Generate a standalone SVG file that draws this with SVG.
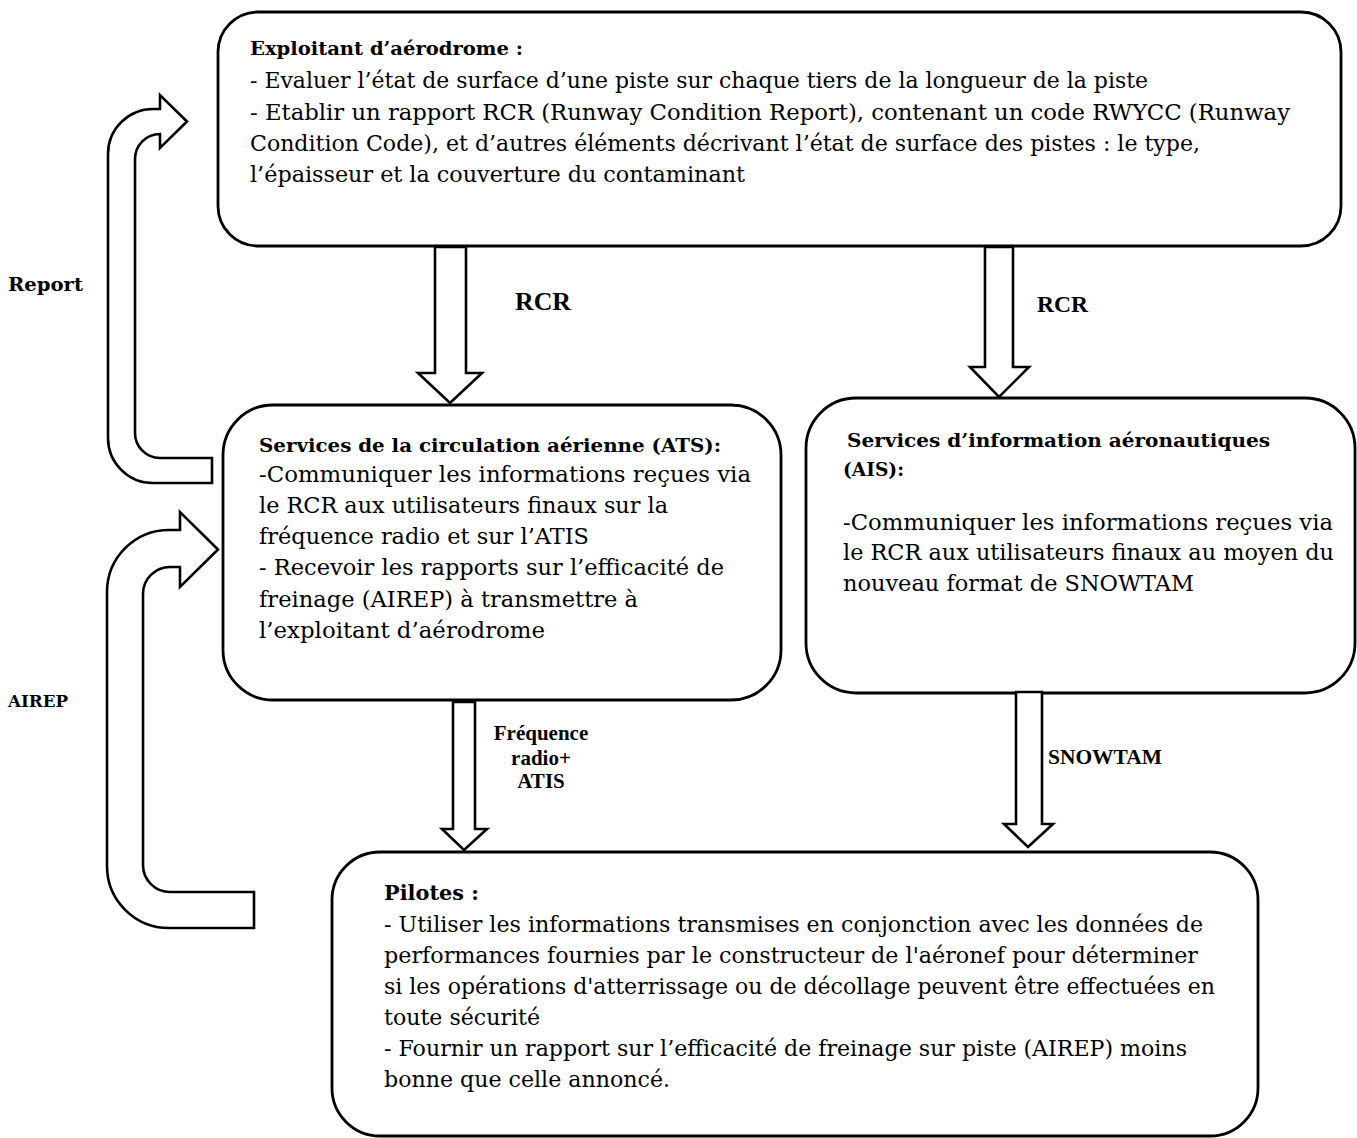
<svg xmlns="http://www.w3.org/2000/svg" width="1357" height="1138" viewBox="0 0 1357 1138">
<style>
.box{fill:#fff;stroke:#000;stroke-width:2.8}
.arr{fill:#fff;stroke:#000;stroke-width:2.6;stroke-linejoin:miter}
.t{font-family:"DejaVu Serif","Liberation Serif",serif;font-size:22px;fill:#000}
.h{font-family:"DejaVu Serif","Liberation Serif",serif;font-size:19px;font-weight:bold;fill:#000}
.lb{font-family:"Liberation Serif","Times New Roman",serif;font-weight:bold;fill:#000}
.sl{font-family:"DejaVu Serif","Liberation Serif",serif;font-weight:bold;fill:#000}
</style>
<rect width="1357" height="1138" fill="#fff"/>

<g id="exploitant">
<rect class="box" x="218" y="12" width="1123" height="234" rx="40" ry="40"/>
<text class="h" x="250" y="55" textLength="273" lengthAdjust="spacingAndGlyphs">Exploitant d’aérodrome :</text>
<text class="t" x="250" y="88" textLength="898" lengthAdjust="spacingAndGlyphs">- Evaluer l’état de surface d’une piste sur chaque tiers de la longueur de la piste</text>
<text class="t" x="250" y="120" textLength="1040" lengthAdjust="spacingAndGlyphs">- Etablir un rapport RCR (Runway Condition Report), contenant un code RWYCC (Runway</text>
<text class="t" x="250" y="151" textLength="950" lengthAdjust="spacingAndGlyphs">Condition Code), et d’autres éléments décrivant l’état de surface des pistes : le type,</text>
<text class="t" x="250" y="182" textLength="495" lengthAdjust="spacingAndGlyphs">l’épaisseur et la couverture du contaminant</text>
</g>

<g id="ats">
<rect class="box" x="223" y="405" width="558" height="295" rx="50" ry="50"/>
<text class="h" x="259" y="452" textLength="462" lengthAdjust="spacingAndGlyphs">Services de la circulation aérienne (ATS):</text>
<text class="t" x="259" y="482" textLength="492" lengthAdjust="spacingAndGlyphs">-Communiquer les informations reçues via</text>
<text class="t" x="259" y="513" textLength="409" lengthAdjust="spacingAndGlyphs">le RCR aux utilisateurs finaux sur la</text>
<text class="t" x="259" y="544" textLength="330" lengthAdjust="spacingAndGlyphs">fréquence radio et sur l’ATIS</text>
<text class="t" x="259" y="575" textLength="465" lengthAdjust="spacingAndGlyphs">- Recevoir les rapports sur l’efficacité de</text>
<text class="t" x="259" y="607" textLength="379" lengthAdjust="spacingAndGlyphs">freinage (AIREP) à transmettre à</text>
<text class="t" x="259" y="638" textLength="286" lengthAdjust="spacingAndGlyphs">l’exploitant d’aérodrome</text>
</g>

<g id="ais">
<rect class="box" x="806" y="398" width="549" height="295" rx="50" ry="50"/>
<text class="h" x="847" y="447" textLength="423" lengthAdjust="spacingAndGlyphs">Services d’information aéronautiques</text>
<text class="h" x="843" y="476" textLength="61" lengthAdjust="spacingAndGlyphs">(AIS):</text>
<text class="t" x="843" y="530" textLength="490" lengthAdjust="spacingAndGlyphs">-Communiquer les informations reçues via</text>
<text class="t" x="843" y="560" textLength="491" lengthAdjust="spacingAndGlyphs">le RCR aux utilisateurs finaux au moyen du</text>
<text class="t" x="843" y="591" textLength="351" lengthAdjust="spacingAndGlyphs">nouveau format de SNOWTAM</text>
</g>

<g id="pilotes">
<rect class="box" x="332" y="852" width="926" height="284" rx="48" ry="48"/>
<text class="h" x="384" y="900" style="font-size:21px" textLength="95" lengthAdjust="spacingAndGlyphs">Pilotes :</text>
<text class="t" x="384" y="932" textLength="819" lengthAdjust="spacingAndGlyphs">- Utiliser les informations transmises en conjonction avec les données de</text>
<text class="t" x="384" y="963" textLength="814" lengthAdjust="spacingAndGlyphs">performances fournies par le constructeur de l'aéronef pour déterminer</text>
<text class="t" x="384" y="994" textLength="831" lengthAdjust="spacingAndGlyphs">si les opérations d'atterrissage ou de décollage peuvent être effectuées en</text>
<text class="t" x="384" y="1025" textLength="156" lengthAdjust="spacingAndGlyphs">toute sécurité</text>
<text class="t" x="384" y="1056" textLength="803" lengthAdjust="spacingAndGlyphs">- Fournir un rapport sur l’efficacité de freinage sur piste (AIREP) moins</text>
<text class="t" x="384" y="1087" textLength="286" lengthAdjust="spacingAndGlyphs">bonne que celle annoncé.</text>
</g>

<g id="connectors">
<path class="arr" d="M435,247 L466,247 L466,373 L482,373 L450,403 L418,373 L435,373 Z"/>
<path class="arr" d="M985,247 L1013,247 L1013,367 L1029,367 L999,397 L970,367 L985,367 Z"/>
<path class="arr" d="M453,702 L475,702 L475,829 L487,829 L464,850 L442,829 L453,829 Z"/>
<path class="arr" d="M1016,692 L1042,692 L1042,824 L1053,824 L1028,847 L1004,824 L1016,824 Z"/>
<path class="arr" d="M212,458 L160,458 A25,25 0 0 1 135,433 L135,159 A25,25 0 0 1 160,134 L160,148 L187,121.5 L160,95 L160,109 L153,109 A45,45 0 0 0 108,154 L108,438 A45,45 0 0 0 153,483 L212,483 Z"/>
<path class="arr" d="M254,892 L170,892 A27,27 0 0 1 143,865 L143,594 A27,27 0 0 1 170,567 L180,567 L180,587 L218,549.5 L180,512 L180,530 L169,530 A62,62 0 0 0 107,592 L107,866 A62,62 0 0 0 169,928 L254,928 Z"/>
<text class="lb" x="515" y="310" style="font-size:26px" textLength="56" lengthAdjust="spacingAndGlyphs">RCR</text>
<text class="lb" x="1037" y="312" style="font-size:23.5px" textLength="51" lengthAdjust="spacingAndGlyphs">RCR</text>
<text class="lb" x="541" y="740" style="font-size:21px" text-anchor="middle">Fréquence</text>
<text class="lb" x="541" y="765" style="font-size:21px" text-anchor="middle">radio+</text>
<text class="lb" x="541" y="788" style="font-size:21px" text-anchor="middle">ATIS</text>
<text class="lb" x="1048" y="764" style="font-size:21px" textLength="114" lengthAdjust="spacingAndGlyphs">SNOWTAM</text>
<text class="sl" x="8" y="291" style="font-size:18px" textLength="75" lengthAdjust="spacingAndGlyphs">Report</text>
<text class="sl" x="8" y="707" style="font-size:16px" textLength="60" lengthAdjust="spacingAndGlyphs">AIREP</text>
</g>
</svg>
